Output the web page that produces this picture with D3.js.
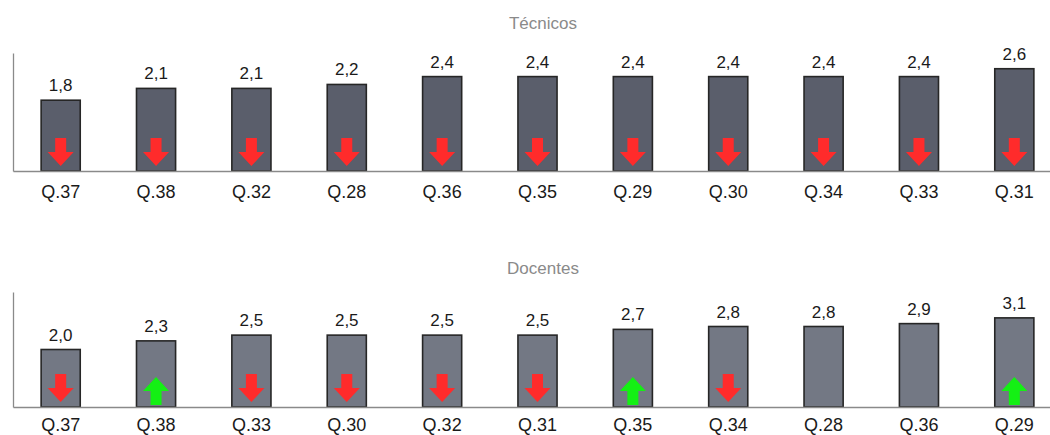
<!DOCTYPE html>
<html>
<head>
<meta charset="utf-8">
<script src="https://cdn.jsdelivr.net/npm/d3@7"></script>
<style>
  html, body { margin: 0; padding: 0; background: #fff; }
  svg { display: block; font-family: "Liberation Sans", Arial, Helvetica, sans-serif; }
</style>
</head>
<body>
<svg id="chart" width="1050" height="435"></svg>
<script>
// Técnicos
const tecCategories = ["Q.37", "Q.38", "Q.32", "Q.28", "Q.36", "Q.35", "Q.29", "Q.30", "Q.34", "Q.33", "Q.31"];
const tecValues     = [1.8, 2.1, 2.1, 2.2, 2.4, 2.4, 2.4, 2.4, 2.4, 2.4, 2.6];
const tecTrend      = ["down", "down", "down", "down", "down", "down", "down", "down", "down", "down", "down"];

// Docentes
const docCategories = ["Q.37", "Q.38", "Q.33", "Q.30", "Q.32", "Q.31", "Q.35", "Q.34", "Q.28", "Q.36", "Q.29"];
const docValues     = [2.0, 2.3, 2.5, 2.5, 2.5, 2.5, 2.7, 2.8, 2.8, 2.9, 3.1];
const docTrend      = ["down", "up", "down", "down", "down", "down", "up", "down", "", "", "up"];

const svg = d3.select("#chart");

// Arrow outlines, centred on x = 0, bottom/top tip at y = 0
const downArrow = "M-5.5,-28 L5.5,-28 L5.5,-14 L13,-14 L0,0 L-13,-14 L-5.5,-14 Z";
const upArrow   = "M-5.5,0 L5.5,0 L5.5,-14 L13,-14 L0,-28 L-13,-14 L-5.5,-14 Z";

function panel(opts) {
  const { title, titleY, categories, values, trend, yMax, top, bottom, barFill, labelPad } = opts;

  const x = d3.scaleBand()
    .domain(categories)
    .range([13, 1062])
    .paddingInner(0.59)
    .paddingOuter(0.295);

  const y = d3.scaleLinear().domain([0, yMax]).range([bottom, top]);

  const g = svg.append("g");

  g.append("text")
    .attr("x", 543)
    .attr("y", titleY)
    .attr("text-anchor", "middle")
    .attr("font-size", 17)
    .attr("fill", "#8a8a8a")
    .text(title);

  // Bars
  g.selectAll("rect.bar")
    .data(values)
    .join("rect")
    .attr("class", "bar")
    .attr("x", (d, i) => x(categories[i]))
    .attr("width", x.bandwidth())
    .attr("y", d => y(d))
    .attr("height", d => y(0) - y(d))
    .attr("fill", barFill)
    .attr("stroke", "#262626")
    .attr("stroke-width", 1.6);

  // Trend arrows
  g.selectAll("path.trend")
    .data(trend.map((t, i) => ({ t, c: categories[i] })).filter(d => d.t))
    .join("path")
    .attr("class", "trend")
    .attr("transform", d => `translate(${x(d.c) + x.bandwidth() / 2},${y(0) - (d.t === "up" ? 2 : 5)})`)
    .attr("d", d => d.t === "up" ? upArrow : downArrow)
    .attr("fill", d => d.t === "up" ? "#14f014" : "#ff2b2b");

  // Value labels
  g.selectAll("text.value")
    .data(values)
    .join("text")
    .attr("class", "value")
    .attr("x", (d, i) => x(categories[i]) + x.bandwidth() / 2)
    .attr("y", d => y(d) - 9)
    .attr("text-anchor", "middle")
    .attr("font-size", 17)
    .attr("fill", "#1a1a1a")
    .text(d => d3.format(".1f")(d).replace(".", ","));

  // Category axis
  const xAxis = g.append("g")
    .attr("transform", `translate(0,${bottom})`)
    .call(d3.axisBottom(x).tickSize(0).tickPadding(labelPad));
  xAxis.select(".domain").attr("stroke", "#8a8a8a").attr("stroke-width", 1.3);
  xAxis.selectAll("text").attr("font-size", 18).attr("fill", "#1a1a1a")
    .attr("font-family", "'Liberation Sans', Arial, sans-serif");

  // Value axis (line only)
  const yAxis = g.append("g")
    .attr("transform", "translate(13,0)")
    .call(d3.axisLeft(y).tickValues([]).tickSizeOuter(0));
  yAxis.select(".domain").attr("stroke", "#8a8a8a").attr("stroke-width", 1.3);
}

panel({
  title: "Técnicos", titleY: 29,
  categories: tecCategories, values: tecValues, trend: tecTrend,
  yMax: 3, top: 53, bottom: 171, barFill: "#5a5e6b", labelPad: 14
});

panel({
  title: "Docentes", titleY: 274,
  categories: docCategories, values: docValues, trend: docTrend,
  yMax: 4, top: 292, bottom: 407, barFill: "#737884", labelPad: 11
});
</script>
</body>
</html>
